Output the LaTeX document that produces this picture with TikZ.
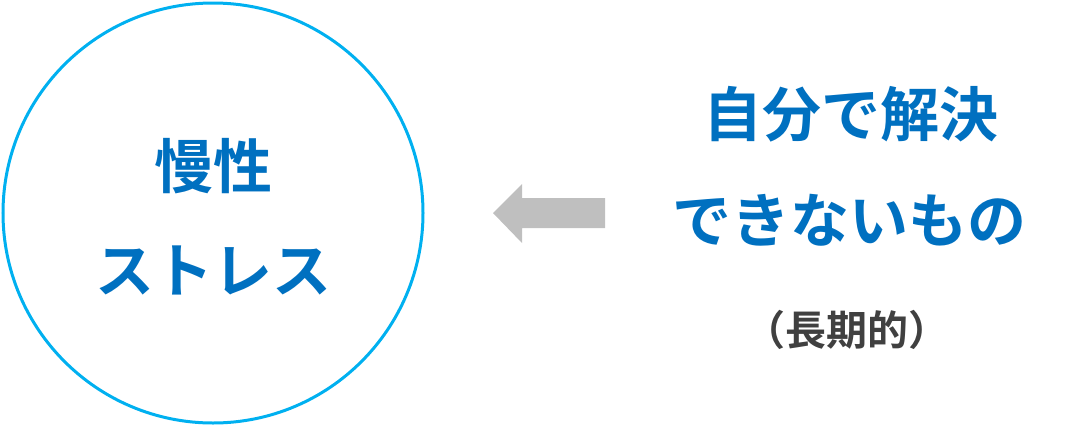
\documentclass[tikz,border=0pt]{standalone}
\usepackage{fontspec}
\newfontfamily\jpfont{Noto Sans CJK JP}[BoldFont={Noto Sans CJK JP Bold}]
\definecolor{ringblue}{HTML}{00B0F0}
\definecolor{textblue}{HTML}{0070C0}
\definecolor{arrowgray}{HTML}{BFBFBF}
\definecolor{notegray}{HTML}{404040}
\tikzset{
  bigtext/.style={text=textblue,font=\jpfont\bfseries\fontsize{59}{61}\selectfont,inner sep=0pt},
  smalltext/.style={text=notegray,font=\jpfont\bfseries\fontsize{41}{43}\selectfont,inner sep=0pt}
}
\begin{document}
\begin{tikzpicture}[x=1pt,y=-1pt]
\useasboundingbox (0,0) rectangle (1076,426);
\node [circle,draw=ringblue,line width=3pt,minimum size=420pt] (ring) at (213,213) {};
\node [bigtext] (chronic) at (213,166) {慢性};
\node [bigtext] (stress) at (213,270) {ストレス};
\fill [arrowgray] (605,198) -- (522,198) -- (522,184) -- (493,213) -- (522,243) -- (522,228) -- (605,228) -- cycle;
\node [bigtext] (self) at (851,114) {自分で解決};
\node [bigtext] (cannot) at (849,220) {できないもの};
\node [smalltext] (longterm) at (847,330) {（長期的）};
\end{tikzpicture}
\end{document}
